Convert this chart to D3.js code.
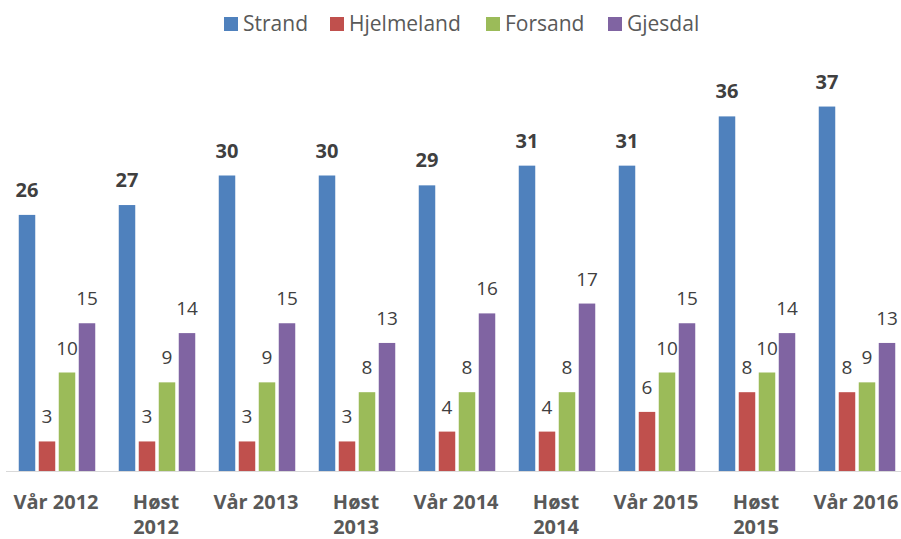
<!DOCTYPE html>
<html>
<head>
<meta charset="utf-8">
<script src="https://cdn.jsdelivr.net/npm/d3@7/dist/d3.min.js"></script>
<style>
  html, body { margin: 0; padding: 0; background: #fff; }
  svg { display: block; }
  text { font-family: "Open Sans", "Noto Sans", sans-serif; }
</style>
</head>
<body>
<svg id="chart" width="901" height="539"></svg>
<script>
const categories = ["Vår 2012", "Høst 2012", "Vår 2013", "Høst 2013", "Vår 2014", "Høst 2014", "Vår 2015", "Høst 2015", "Vår 2016"];
const seriesNames = ["Strand", "Hjelmeland", "Forsand", "Gjesdal"];
const strand = [26, 27, 30, 30, 29, 31, 31, 36, 37];
const hjelmeland = [3, 3, 3, 3, 4, 4, 6, 8, 8];
const forsand = [10, 9, 9, 8, 8, 8, 10, 10, 9];
const gjesdal = [15, 14, 15, 13, 16, 17, 15, 14, 13];
const colors = ["#4F81BD", "#C0504D", "#9BBB59", "#8064A2"];

const seriesValues = [strand, hjelmeland, forsand, gjesdal];
const data = categories.map((c, i) => ({
  cat: c,
  vals: seriesNames.map((s, j) => ({ series: s, idx: j, value: seriesValues[j][i] }))
}));

const svg = d3.select("#chart");
const baseY = 471;

const x0 = d3.scaleBand().domain(categories).range([7, 907]).paddingInner(0).paddingOuter(0);
const x1 = d3.scaleBand().domain(seriesNames).range([0, x0.bandwidth()]).paddingInner(0.175).paddingOuter(0.5875);
const y = d3.scaleLinear().domain([0, 40]).range([baseY, 77]);
const color = d3.scaleOrdinal().domain(seriesNames).range(colors);

// axis line
svg.append("line")
  .attr("x1", 6).attr("x2", 901)
  .attr("y1", baseY + 0.5).attr("y2", baseY + 0.5)
  .attr("stroke", "#d9d9d9").attr("stroke-width", 1.2);

const groups = svg.append("g").selectAll("g").data(data).join("g")
  .attr("transform", d => `translate(${x0(d.cat)},0)`);

groups.selectAll("rect").data(d => d.vals).join("rect")
  .attr("x", d => x1(d.series))
  .attr("width", x1.bandwidth())
  .attr("y", d => y(d.value))
  .attr("height", d => baseY - y(d.value))
  .attr("fill", d => color(d.series));

groups.selectAll("text.val").data(d => d.vals).join("text")
  .attr("class", "val")
  .attr("x", d => x1(d.series) + x1.bandwidth() / 2)
  .attr("y", d => y(d.value) - 18)
  .attr("text-anchor", "middle")
  .attr("font-size", d => d.idx === 0 ? 20 : 19)
  .attr("font-weight", d => d.idx === 0 ? "bold" : "normal")
  .attr("fill", "#404040")
  .text(d => d.value);

// x axis labels
const xLabels = svg.append("g").selectAll("text").data(categories).join("text")
  .attr("x", d => x0(d) + x0.bandwidth() / 2 - 1)
  .attr("y", 509)
  .attr("text-anchor", "middle")
  .attr("font-size", 20)
  .attr("font-weight", "bold")
  .attr("fill", "#595959");
xLabels.each(function(d) {
  const t = d3.select(this);
  if (d.startsWith("Høst")) {
    const parts = d.split(" ");
    t.append("tspan").attr("x", t.attr("x")).attr("dy", 0).text(parts[0]);
    t.append("tspan").attr("x", t.attr("x")).attr("dy", 25).text(parts[1]);
  } else {
    t.text(d);
  }
});

// legend
const legendX = [224, 330, 486, 608];
const legend = svg.append("g").selectAll("g").data(seriesNames).join("g")
  .attr("transform", (d, i) => `translate(${legendX[i]},17)`);
legend.append("rect").attr("width", 14).attr("height", 14).attr("fill", d => color(d));
legend.append("text").attr("x", 19).attr("y", 14).attr("font-size", 21).attr("fill", "#595959").text(d => d);
</script>
</body>
</html>
